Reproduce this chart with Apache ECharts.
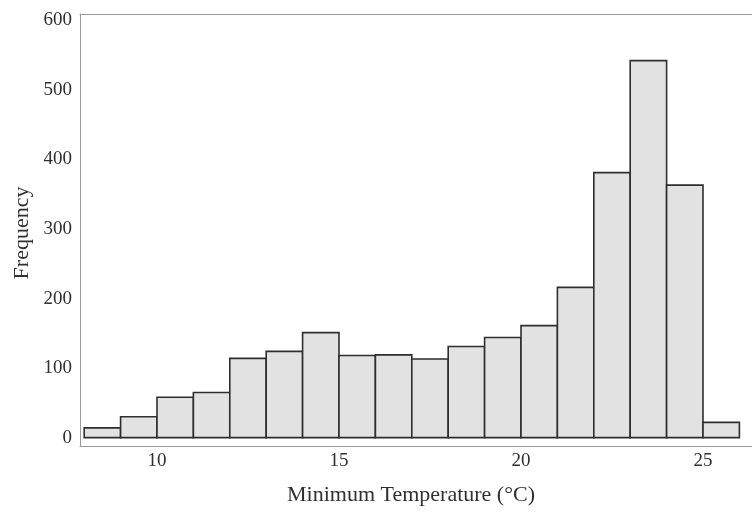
<!DOCTYPE html>
<html>
<head>
<meta charset="utf-8">
<script src="https://cdn.jsdelivr.net/npm/echarts@6/dist/echarts.min.js"></script>
<style>
  html, body { margin: 0; padding: 0; background: #ffffff; }
  #chart { width: 752px; height: 513px; }
</style>
</head>
<body>
<div id="chart"></div>
<script>
// Histogram of daily minimum temperature, 1 °C bins
const binStarts = [8, 9, 10, 11, 12, 13, 14, 15, 16, 17, 18, 19, 20, 21, 22, 23, 24, 25];
const binWidth = 1;
const frequencies = [14, 30, 58, 65, 114, 124, 151, 118, 119, 113, 131, 144, 161, 216, 381, 542, 363, 22];
const xTicks = [10, 15, 20, 25];
const yTicks = [0, 100, 200, 300, 400, 500, 600];

const serif = '"Liberation Serif", "DejaVu Serif", "Times New Roman", serif';
const frameLine = { show: true, onZero: false, lineStyle: { color: '#9a9a9a', width: 1 } };

const bins = binStarts.map((s, i) => [s, s + binWidth, frequencies[i]]);

const chart = echarts.init(document.getElementById('chart'));
chart.setOption({
  animation: false,
  backgroundColor: '#ffffff',
  grid: { left: 80, right: 0, top: 14, bottom: 67 },
  xAxis: [
    {
      type: 'value',
      position: 'bottom',
      min: 7.885,
      max: 26.346,
      splitLine: { show: false },
      axisLine: frameLine,
      axisTick: { show: false },
      axisLabel: {
        customValues: xTicks,
        margin: 6,
        fontFamily: serif,
        fontSize: 19,
        color: '#303030'
      }
    },
    {
      // top edge of the frame
      type: 'value',
      position: 'top',
      min: 7.885,
      max: 26.346,
      splitLine: { show: false },
      axisLine: frameLine,
      axisTick: { show: false },
      axisLabel: { show: false }
    }
  ],
  yAxis: {
    type: 'value',
    min: -12,
    max: 609,
    splitLine: { show: false },
    axisLine: frameLine,
    axisTick: { show: false },
    axisLabel: {
      customValues: yTicks,
      margin: 8,
      fontFamily: serif,
      fontSize: 19,
      color: '#303030'
    }
  },
  graphic: [
    {
      type: 'text',
      x: 411, y: 495,
      style: {
        text: 'Minimum Temperature (°C)',
        font: '22px ' + serif,
        fill: '#303030',
        align: 'center',
        verticalAlign: 'middle'
      }
    },
    {
      type: 'text',
      x: 22, y: 233,
      rotation: Math.PI / 2,
      style: {
        text: 'Frequency',
        font: '22px ' + serif,
        fill: '#303030',
        align: 'center',
        verticalAlign: 'middle'
      }
    }
  ],
  series: [{
    type: 'custom',
    xAxisIndex: 0,
    data: bins,
    encode: { x: [0, 1], y: 2 },
    renderItem: function (params, api) {
      const p0 = api.coord([api.value(0), 0]);
      const p1 = api.coord([api.value(1), api.value(2)]);
      return {
        type: 'rect',
        shape: { x: p0[0], y: p1[1], width: p1[0] - p0[0], height: p0[1] - p1[1] },
        style: { fill: '#e2e2e2', stroke: '#2e2e2e', lineWidth: 1.6 }
      };
    }
  }]
});
</script>
</body>
</html>
